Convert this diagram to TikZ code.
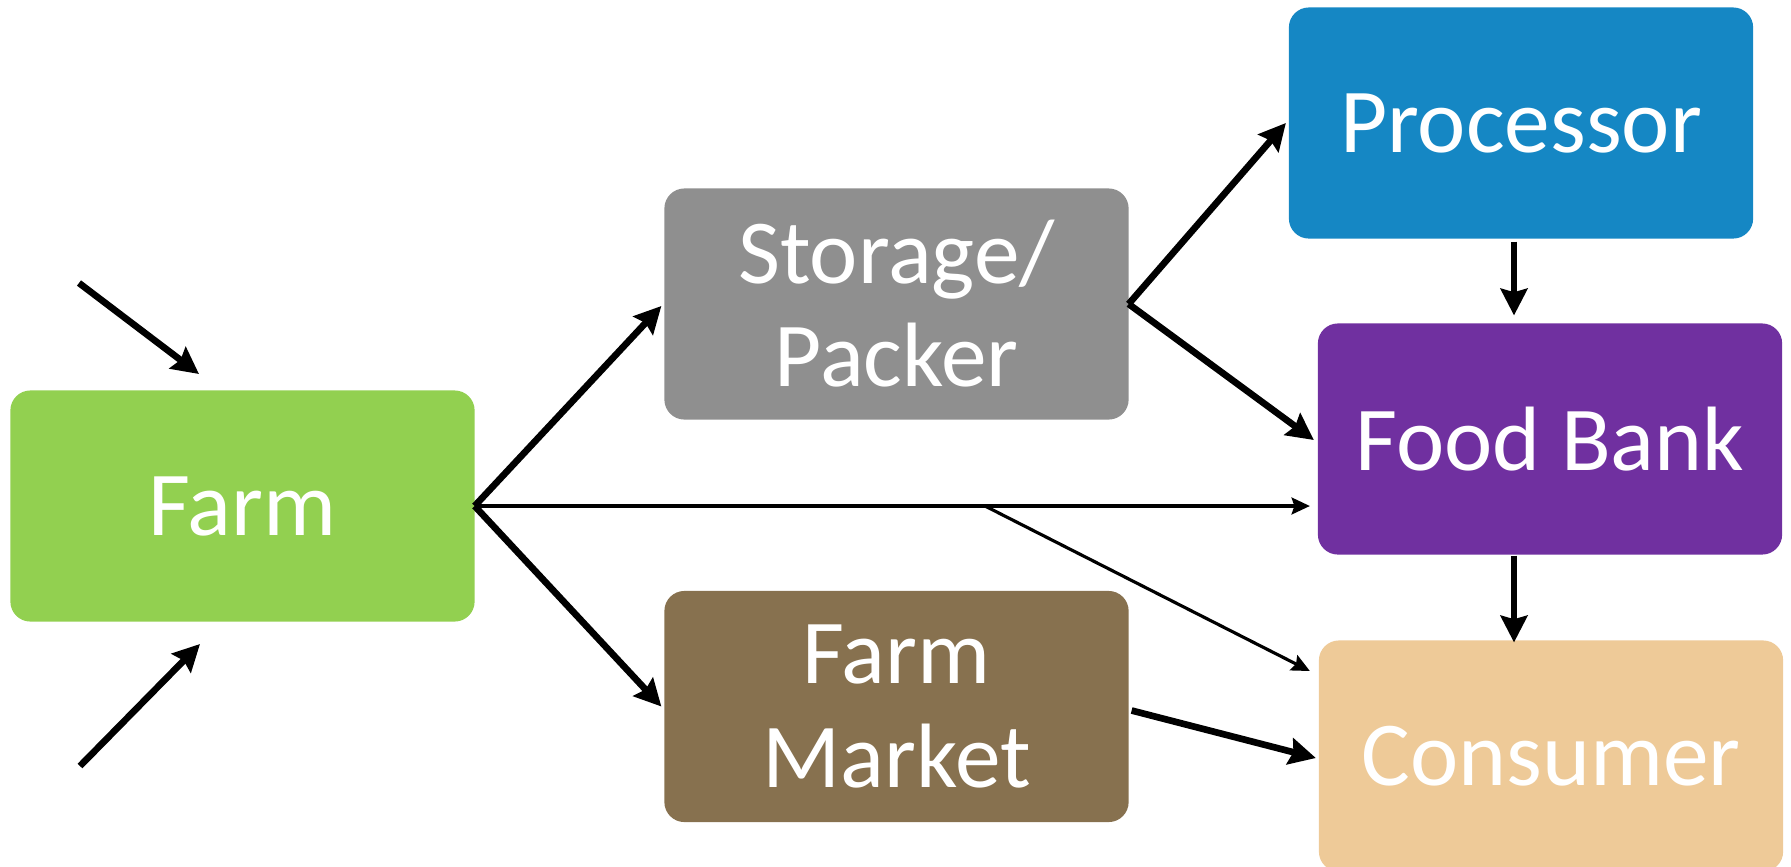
\documentclass[tikz,border=0pt]{standalone}
\usepackage{fontspec}
\setmainfont{Carlito}
\usetikzlibrary{arrows.meta}
\definecolor{farmgreen}{HTML}{92D050}
\definecolor{storgray}{HTML}{8F8F8F}
\definecolor{mktbrown}{HTML}{87714F}
\definecolor{procblue}{HTML}{1587C4}
\definecolor{fbpurple}{HTML}{7030A0}
\definecolor{consumertan}{HTML}{EECA98}
\tikzset{
  box/.style={rectangle, rounded corners=5.7pt, minimum width=4.64cm, minimum height=2.31cm,
    inner sep=0pt, outer sep=0pt, text=white, align=center,
    font=\fontsize{26}{29.3}\selectfont},
  thickarr/.style={line width=1.9pt, -{Stealth[length=7.6pt,width=7.6pt,inset=1pt]}},
  thinarr/.style={line width=0.9pt, -{Stealth[length=5.2pt,width=4.8pt,inset=0.8pt]}}
}
\begin{document}
\begin{tikzpicture}[x=0.01cm, y=-0.01cm]
\useasboundingbox (0,0) rectangle (1791,866);
\clip (0,0) rectangle (1791,866);
% boxes
\node[box, fill=farmgreen]   (farm)      at (242.5,506) {Farm};
\node[box, fill=storgray]    (storage)   at (896.5,304) {Storage/\\Packer};
\node[box, fill=mktbrown]    (market)    at (896.5,706.5) {Farm\\Market};
\node[box, fill=procblue]    (processor) at (1521,123) {Processor};
\node[box, fill=fbpurple]    (foodbank)  at (1550,439) {Food Bank};
\node[box, fill=consumertan] (consumer)  at (1551,756) {Consumer};
% free ends of the incoming arrows
\coordinate (in1) at (79,283);
\coordinate (in1e) at (199,374);
\coordinate (in2) at (80,766);
\coordinate (in2e) at (200,644);
\coordinate (br) at (985,506);
% connectors
\draw[thickarr] (in1) -- (in1e);
\draw[thickarr] (in2) -- (in2e);
\draw[thickarr] (farm.east) -- ([shift={(-3,2)}]storage.west);
\draw[thickarr] (farm.east) -- ([shift={(-3,0)}]market.west);
\draw[thinarr] (farm.east) -- ([shift={(-8,67)}]foodbank.west);
\draw[thinarr] (br) -- ([shift={(-9,-85)}]consumer.west);
\draw[thickarr] (storage.east) -- ([shift={(-3,0)}]processor.west);
\draw[thickarr] (storage.east) -- ([shift={(-4,1)}]foodbank.west);
\draw[thickarr] ([shift={(-7,3)}]processor.south) -- ([shift={(-36,-8)}]foodbank.north);
\draw[thickarr] ([shift={(-36,1)}]foodbank.south) -- ([shift={(-37,2)}]consumer.north);
\draw[thickarr] ([shift={(3,4)}]market.east) -- ([shift={(-3,2)}]consumer.west);
\end{tikzpicture}
\end{document}
